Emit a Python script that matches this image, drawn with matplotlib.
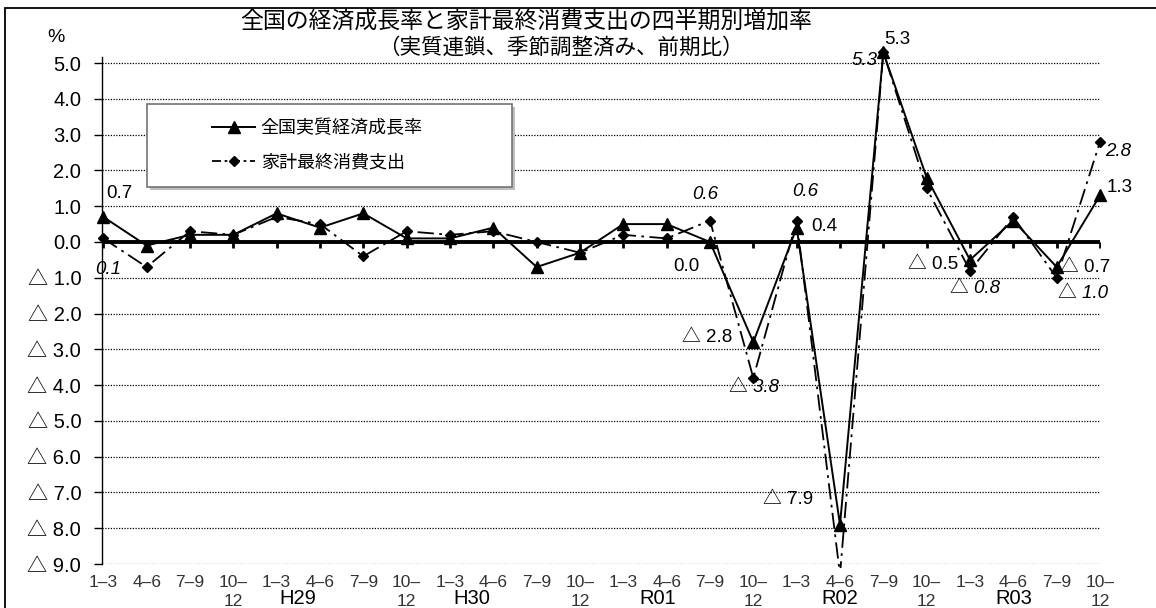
import matplotlib
matplotlib.use("Agg")
import matplotlib.pyplot as plt
import matplotlib.transforms as mtransforms
from matplotlib.patches import Rectangle
from matplotlib.lines import Line2D
from matplotlib.ticker import FuncFormatter
import numpy as np

plt.rcParams['font.family'] = ['Liberation Sans', 'Noto Sans CJK JP', 'DejaVu Sans']

# quarterly categories (H28 1-3 ... R03 10-12)
quarters = ["1–3", "4–6", "7–9", "10–\n12"] * 6
years = ["H29", "H30", "R01", "R02", "R03"]

# quarter-on-quarter growth rates (%)
gdp = [0.7, -0.1, 0.2, 0.2, 0.8, 0.4, 0.8, 0.1, 0.1, 0.4, -0.7, -0.3,
       0.5, 0.5, 0.0, -2.8, 0.4, -7.9, 5.3, 1.8, -0.5, 0.6, -0.7, 1.3]
consumption = [0.1, -0.7, 0.3, 0.2, 0.7, 0.5, -0.4, 0.3, 0.2, 0.3, 0.0, -0.3,
               0.2, 0.1, 0.6, -3.8, 0.6, -9.3, 5.3, 1.5, -0.8, 0.7, -1.0, 2.8]
series_names = ["全国実質経済成長率", "家計最終消費支出"]
title = "全国の経済成長率と家計最終消費支出の四半期別増加率"
subtitle = "（実質連鎖、季節調整済み、前期比）"

W, H = 1156, 608
fig = plt.figure(figsize=(W / 100, H / 100), dpi=100)
fig.patch.set_facecolor("white")

ax_l, ax_r, ax_t, ax_b = 102, 1100, 57, 564
ax = fig.add_axes([ax_l / W, 1 - ax_b / H, (ax_r - ax_l) / W, (ax_b - ax_t) / H])

x = np.arange(len(quarters))
ax.set_xlim(-0.03, len(quarters) - 1)
ax.set_ylim(-9.0, 5.17)


def fmt(v):
    return f"{v:.1f}" if v >= 0 else f"△ {abs(v):.1f}"


# axes styling
for s in ("top", "right", "bottom"):
    ax.spines[s].set_visible(False)
ax.spines["left"].set_linewidth(1.0)
ax.set_yticks(np.arange(-9, 5.01, 1.0))
ax.yaxis.set_major_formatter(FuncFormatter(lambda v, p: fmt(round(v, 1))))
ax.tick_params(axis="y", direction="out", length=6, width=1, labelsize=14.5, pad=9)
ax.set_xticks(x)
ax.set_xticklabels(quarters, fontsize=12.5, color="#333333", linespacing=1.3)
ax.tick_params(axis="x", length=0, pad=8)
ax.yaxis.grid(True, linestyle=(0, (1, 1.2)), color="black", linewidth=0.9)
ax.set_axisbelow(True)

# zero line with quarter ticks
ax.axhline(0, color="black", linewidth=2.8, zorder=3)
ax.plot(x, np.zeros(len(x)), linestyle="none", marker=3, markersize=4,
        markeredgewidth=2, color="black", zorder=3)

clip = mtransforms.TransformedBbox(
    mtransforms.Bbox([[-1, -9.12], [len(x), 6]]), ax.transData)

l1, = ax.plot(x, gdp, color="black", linewidth=1.4, marker="^", markersize=8.5,
              zorder=5, label=series_names[0])
l2, = ax.plot(x, consumption, color="black", linewidth=1.3,
              linestyle=(0, (9, 3, 1.5, 3)), marker="D", markersize=5.5,
              zorder=4, label=series_names[1])
for ln in (l1, l2):
    ln.set_clip_box(clip)

# value labels: index -> offset in pixels
gdp_labels = {0: (16, 23), 14: (-24, -25), 15: (-46, 5), 16: (28, 1),
              17: (-52, 25), 18: (14, 13), 20: (-37, -5), 22: (28, 0), 23: (20, 8)}
cons_labels = {0: (5, -31), 14: (-5, 26), 15: (1, -10), 16: (9, 29),
               18: (-19, -8), 20: (5, -18), 22: (26, -16), 23: (18, -10)}
for i, off in gdp_labels.items():
    ax.annotate(fmt(gdp[i]), xy=(i, gdp[i]), xytext=off, textcoords="offset pixels",
                ha="center", va="center", fontsize=13.5, zorder=6,
                annotation_clip=False)
for i, off in cons_labels.items():
    ax.annotate(fmt(consumption[i]), xy=(i, consumption[i]), xytext=off,
                textcoords="offset pixels", ha="center", va="center",
                fontsize=13.5, style="italic", zorder=6, annotation_clip=False)

# fiscal-year labels under the quarter labels
ytrans = mtransforms.blended_transform_factory(ax.transData, fig.transFigure)
year_pos = [4.5, 8.5, 12.8, 17.0, 21.0]
for lab, xp in zip(years, year_pos):
    ax.text(xp, 1 - 607.5 / H, lab, transform=ytrans, ha="center", va="bottom",
            fontsize=14.5, clip_on=False)

# titles and unit
fig.text(526 / W, 1 - 22 / H, title, ha="center", va="center", fontsize=16.5)
fig.text(561 / W, 1 - 48 / H, subtitle, ha="center", va="center", fontsize=15.5)
fig.text(56 / W, 1 - 38 / H, "%", ha="center", va="center", fontsize=14)

# legend box with a light shadow
lx0, ly0, lx1, ly1 = 147, 104, 512, 187
fig.patches.append(Rectangle(((lx0 + 3) / W, 1 - (ly1 + 3) / H), (lx1 - lx0) / W,
                             (ly1 - ly0) / H, transform=fig.transFigure,
                             facecolor="0.75", edgecolor="none", zorder=2))
fig.patches.append(Rectangle((lx0 / W, 1 - ly1 / H), (lx1 - lx0) / W,
                             (ly1 - ly0) / H, transform=fig.transFigure,
                             facecolor="white", edgecolor="0.45", linewidth=1.2,
                             zorder=3))
handles = [Line2D([], [], color="black", linewidth=1.4, marker="^", markersize=8.5),
           Line2D([], [], color="black", linewidth=1.3,
                  linestyle=(0, (5, 2, 1.5, 2)), marker="D", markersize=5.5)]
fig.legend(handles, series_names, loc="upper left",
           bbox_to_anchor=(212 / W, 1 - 120 / H), bbox_transform=fig.transFigure,
           frameon=False, fontsize=13, borderpad=0, borderaxespad=0,
           handlelength=2.4, handletextpad=0.3, labelspacing=0.95)

# outer frame
fig.patches.append(Rectangle((5 / W, -0.05), 1.1, 1 - 8 / H + 0.05,
                             transform=fig.transFigure, fill=False,
                             edgecolor="black", linewidth=1.3, zorder=10))

fig.savefig("out.png", dpi=100)
